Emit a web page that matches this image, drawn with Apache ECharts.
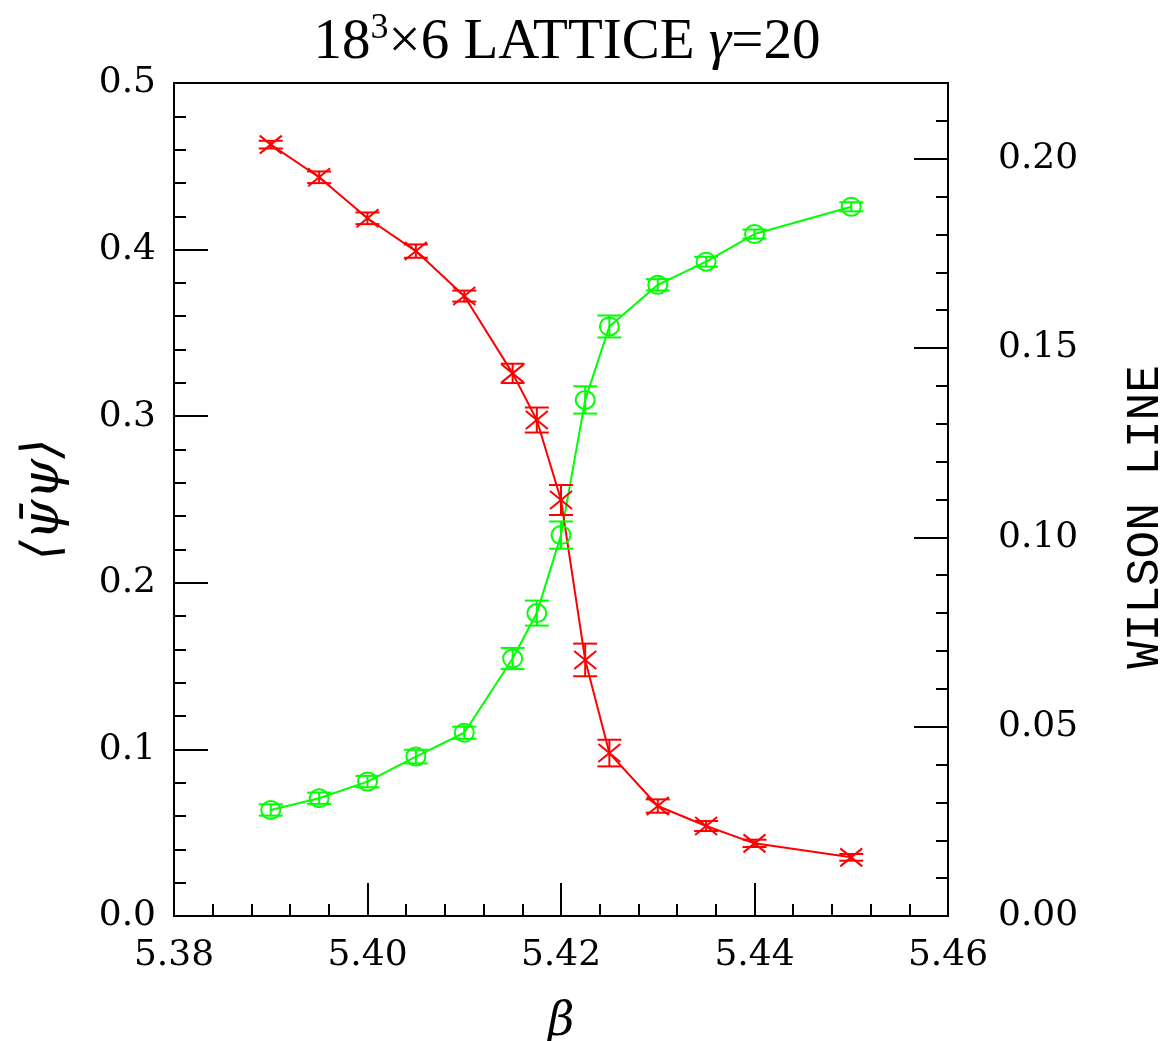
<!DOCTYPE html>
<html>
<head>
<meta charset="utf-8">
<script src="https://cdn.jsdelivr.net/npm/echarts@6/dist/echarts.min.js"></script>
<style>html,body{margin:0;padding:0;background:#fff;overflow:hidden;}#c{width:1172px;height:1041px;}</style>
</head>
<body>
<div id="c"></div>
<script>
// beta values (x)
var beta = [5.39, 5.395, 5.40, 5.405, 5.41, 5.415, 5.4175, 5.42, 5.4225, 5.425, 5.43, 5.435, 5.44, 5.45];
// <psibar psi> (left axis) with errors
var pbp    = [0.463, 0.4434, 0.4188, 0.3991, 0.3721, 0.3257, 0.2977, 0.2497, 0.1537, 0.0978, 0.0660, 0.0540, 0.0436, 0.0352];
var pbpErr = [0.0023, 0.0035, 0.0035, 0.0040, 0.0033, 0.0058, 0.0075, 0.0090, 0.0098, 0.0080, 0.0040, 0.0030, 0.0022, 0.0020];
// Wilson line (right axis) with errors
var wil    = [0.0280, 0.0311, 0.0355, 0.0421, 0.0484, 0.0680, 0.0800, 0.1006, 0.1363, 0.1557, 0.1667, 0.1728, 0.1801, 0.1873];
var wilErr = [0.0015, 0.0015, 0.0015, 0.0018, 0.0016, 0.0028, 0.0033, 0.0036, 0.0036, 0.0029, 0.0015, 0.0013, 0.0012, 0.0012];

var RED = '#ff0000', GREEN = '#00ff00';
var lblFont = 'DejaVu Serif';

function pts(ys){ return beta.map(function(b,i){ return [b, ys[i]]; }); }
function errPts(ys, es){ return beta.map(function(b,i){ return [b, ys[i], es[i]]; }); }

function makeRender(color, kind){
  return function(params, api){
    var x = api.value(0), y = api.value(1), e = api.value(2);
    var p = api.coord([x, y]);
    var hi = api.coord([x, y + e]);
    var lo = api.coord([x, y - e]);
    var cw = 12;
    var st = {stroke: color, lineWidth: 2, fill: null};
    var ch = [
      {type:'line', shape:{x1:p[0], y1:hi[1], x2:p[0], y2:lo[1]}, style:st},
      {type:'line', shape:{x1:p[0]-cw, y1:hi[1], x2:p[0]+cw, y2:hi[1]}, style:st},
      {type:'line', shape:{x1:p[0]-cw, y1:lo[1], x2:p[0]+cw, y2:lo[1]}, style:st}
    ];
    if (kind === 'x') {
      ch.push({type:'line', shape:{x1:p[0]-11, y1:p[1]-9, x2:p[0]+11, y2:p[1]+9}, style:st});
      ch.push({type:'line', shape:{x1:p[0]-11, y1:p[1]+9, x2:p[0]+11, y2:p[1]-9}, style:st});
    } else {
      ch.push({type:'ellipse', shape:{cx:p[0], cy:p[1], rx:9.5, ry:9}, style:{stroke: color, lineWidth: 2, fill: 'rgba(0,0,0,0)'}});
    }
    return {type:'group', children: ch};
  };
}

var chart = echarts.init(document.getElementById('c'), null, {renderer:'canvas'});
chart.setOption({
  animation: false,
  backgroundColor: '#fff',
  title: {
    text: '18{s|3}×6 LATTICE {g|γ}=20',
    left: 562, top: 6, textAlign: 'center',
    textStyle: {
      fontFamily: 'Liberation Serif', fontSize: 57, fontWeight: 'normal', color: '#000',
      rich: {
        s: {fontFamily: 'Liberation Serif', fontSize: 36, verticalAlign: 'top', padding: [0,0,28,0], color:'#000'},
        g: {fontFamily: 'Liberation Serif', fontSize: 57, fontStyle: 'italic', color:'#000'}
      }
    }
  },
  grid: {left: 174, right: 224, top: 83, bottom: 125, outerBoundsMode: 'none', containLabel: false,
         show: true, borderColor: '#000', borderWidth: 2, backgroundColor: 'transparent'},
  xAxis: [{
    type: 'value', min: 5.38, max: 5.46, interval: 0.02,
    axisLine: {show: true, lineStyle: {color:'#000', width: 2}},
    axisTick: {show: true, inside: true, length: 33, lineStyle: {color:'#000', width: 2}},
    minorTick: {show: true, splitNumber: 5, length: 12, lineStyle: {color:'#000', width: 2}},
    splitLine: {show: false},
    axisLabel: {fontFamily: lblFont, fontSize: 36, color: '#000', margin: 22, formatter: function(v){ return v.toFixed(2); }},
    name: 'β', nameLocation: 'middle', nameGap: 84,
    nameTextStyle: {fontFamily: 'DejaVu Serif', fontStyle: 'italic', fontSize: 46, color: '#000'}
  }],
  yAxis: [{
    type: 'value', min: 0, max: 0.5, interval: 0.1, position: 'left',
    axisLine: {show: true, lineStyle: {color:'#000', width: 2}},
    axisTick: {show: true, inside: true, length: 34, lineStyle: {color:'#000', width: 2}},
    minorTick: {show: true, splitNumber: 5, length: 12, lineStyle: {color:'#000', width: 2}},
    splitLine: {show: false},
    axisLabel: {fontFamily: lblFont, fontSize: 36, color: '#000', margin: 18, formatter: function(v){ return v.toFixed(1); }},
    name: '⟨ψ̄ψ⟩', nameLocation: 'middle', nameGap: 104, nameRotate: 90,
    nameTextStyle: {fontFamily: 'DejaVu Serif', fontStyle: 'italic', fontSize: 52, color: '#000'}
  }, {
    type: 'value', min: 0, max: 0.22, interval: 0.05, position: 'right',
    axisLine: {show: true, lineStyle: {color:'#000', width: 2}},
    axisTick: {show: true, inside: true, length: 34, lineStyle: {color:'#000', width: 2}},
    splitLine: {show: false},
    axisLabel: {fontFamily: lblFont, fontSize: 36, color: '#000', margin: 50, showMaxLabel: false, formatter: function(v){ return v.toFixed(2); }}
  }, {
    type: 'value', min: 0, max: 0.22, interval: 0.01, position: 'right',
    axisLine: {show: false},
    axisTick: {show: true, inside: true, length: 12, lineStyle: {color:'#000', width: 2}},
    splitLine: {show: false},
    axisLabel: {show: false}
  }],
  graphic: [{
    type: 'text', x: 1146, y: 517, rotation: Math.PI / 2,
    style: {text: 'WILSON LINE', fontFamily: 'Liberation Mono', fontSize: 46, fill: '#000', align: 'center', verticalAlign: 'middle'}
  }],
  series: [
    {type: 'line', data: pts(wil), yAxisIndex: 1, showSymbol: false, lineStyle: {color: GREEN, width: 2}, itemStyle:{color:GREEN}, z: 3},
    {type: 'custom', data: errPts(wil, wilErr), yAxisIndex: 1, renderItem: makeRender(GREEN, 'o'), z: 4},
    {type: 'line', data: pts(pbp), yAxisIndex: 0, showSymbol: false, lineStyle: {color: RED, width: 2}, itemStyle:{color:RED}, z: 3},
    {type: 'custom', data: errPts(pbp, pbpErr), yAxisIndex: 0, renderItem: makeRender(RED, 'x'), z: 4}
  ]
});
</script>
</body>
</html>
